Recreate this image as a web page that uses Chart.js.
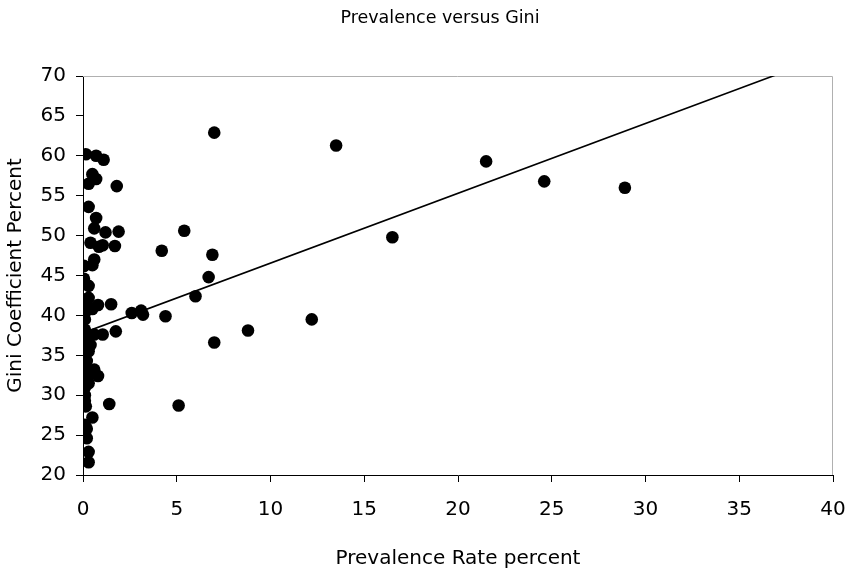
<!DOCTYPE html>
<html>
<head>
<meta charset="utf-8">
<script src="https://cdn.jsdelivr.net/npm/chart.js@4"></script>
<style>
  html, body { margin: 0; padding: 0; background: #fff; }
  #wrap { width: 851px; height: 575px; }
</style>
</head>
<body>
<div id="wrap"><canvas id="chart"></canvas></div>
<script>
// prevalence rate (%) and Gini coefficient (%) per country
const prevalence = [
  7.0, 13.5, 21.5, 24.6, 28.9, 16.5, 12.2, 8.8, 6.0, 6.7, 6.9, 5.4, 4.2, 7.0, 4.4,
  3.1, 3.2, 2.6, 5.1, 1.4,
  0.15, 0.7, 1.1, 0.5, 0.7, 0.3, 1.8, 0.3, 0.7, 0.6, 1.2, 1.9, 0.4, 0.85, 1.05, 1.7,
  0.6, 0.05, 0.5, 0.05, 0.3, 0.05, 0.3, 0.2, 0.8, 1.5, 0.5, 0.1, 0.1, 0.1, 1.05, 1.75,
  0.6, 0.3, 0.1, 0.4, 0.1, 0.3, 0.1, 0.2, 0.1, 0.6, 0.1, 0.3, 0.8, 0.1, 0.3, 0.1, 0.1,
  0.1, 0.15, 0.5, 0.1, 0.2, 0.1, 0.2, 0.3, 0.3
];
const gini = [
  62.9, 61.3, 59.3, 56.8, 56.0, 49.8, 39.5, 38.1, 42.4, 44.8, 47.6, 50.6, 48.1, 36.6, 39.9,
  40.6, 40.1, 40.3, 28.7, 28.9,
  60.2, 60.0, 59.5, 57.7, 57.1, 56.5, 56.2, 53.6, 52.2, 50.9, 50.4, 50.5, 49.1, 48.6, 48.8, 48.7,
  47.0, 46.2, 46.3, 44.6, 43.7, 42.0, 42.2, 41.2, 41.3, 41.4, 40.8, 40.3, 39.5, 38.2, 37.6, 38.0,
  37.6, 37.2, 36.8, 36.3, 35.8, 35.5, 35.0, 34.3, 33.6, 33.2, 33.0, 32.6, 32.4, 32.0, 31.5, 31.0, 30.0,
  29.3, 28.6, 27.2, 26.3, 25.8, 25.2, 24.6, 22.9, 21.6
];
// linear trend line end points
const trendX = [0, 40];
const trendY = [37.8, 72.8];

const xTicks = [0, 5, 10, 15, 20, 25, 30, 35, 40];
const yTicks = [20, 25, 30, 35, 40, 45, 50, 55, 60, 65, 70];

const points = prevalence.map((p, i) => ({ x: p, y: gini[i] }));
const trend = trendX.map((p, i) => ({ x: p, y: trendY[i] }));

// the source text is a little wider than Arial, DejaVu Sans fits it better
const FONT = 'DejaVu Sans, Liberation Sans, sans-serif';

// grey frame on top and right of the plot area
const frame = {
  id: 'frame',
  afterLayout(chart) {
    // centre the title a bit right of the canvas middle, as in the source
    const t = chart.titleBlock;
    if (t) { t.left = 47; t.right = 833; t.width = 786; }
  },
  beforeDatasetsDraw(chart) {
    const { ctx, chartArea: a } = chart;
    ctx.save();
    ctx.strokeStyle = '#b0b0b0';
    ctx.lineWidth = 1;
    ctx.beginPath();
    ctx.moveTo(a.left, a.top + 0.5);
    ctx.lineTo(a.right - 0.5, a.top + 0.5);
    ctx.lineTo(a.right - 0.5, a.bottom);
    ctx.stroke();
    ctx.restore();
  }
};

new Chart(document.getElementById('chart'), {
  type: 'scatter',
  data: {
    datasets: [
      {
        data: trend,
        type: 'line',
        borderColor: '#000',
        borderWidth: 1.6,
        pointRadius: 0,
        fill: false,
        order: 2
      },
      {
        data: points,
        backgroundColor: '#000',
        borderWidth: 0,
        pointRadius: 6.3,
        pointHoverRadius: 6.3,
        order: 1
      }
    ]
  },
  options: {
    responsive: true,
    maintainAspectRatio: false,
    animation: false,
    layout: { padding: { left: 0, right: 18, top: 0, bottom: 0 } },
    plugins: {
      legend: { display: false },
      tooltip: { enabled: false },
      title: {
        display: true,
        text: 'Prevalence versus Gini',
        color: '#000',
        font: { family: FONT, size: 17.5, weight: 'normal' },
        padding: { top: 8, bottom: 47 }
      }
    },
    scales: {
      x: {
        type: 'linear',
        min: 0,
        max: 40,
        afterBuildTicks: s => { s.ticks = xTicks.map(v => ({ value: v })); },
        afterFit: s => { s.height = 100; s.paddingLeft = 0; s.paddingRight = 0; },
        ticks: { color: '#000', font: { family: FONT, size: 20 }, padding: 16 },
        grid: { drawOnChartArea: false, tickLength: 7, color: '#000' },
        border: { color: '#000', width: 1 },
        title: {
          display: true,
          text: 'Prevalence Rate percent',
          color: '#000',
          font: { family: FONT, size: 20 },
          padding: { top: 16 }
        }
      },
      y: {
        type: 'linear',
        min: 20,
        max: 70,
        afterBuildTicks: s => { s.ticks = yTicks.map(v => ({ value: v })); },
        afterFit: s => { s.width = 83; s.paddingTop = 0; s.paddingBottom = 0; },
        ticks: { color: '#000', font: { family: FONT, size: 20 }, padding: 10 },
        grid: { drawOnChartArea: false, tickLength: 7, color: '#000' },
        border: { color: '#000', width: 1 },
        title: {
          display: true,
          text: 'Gini Coefficient Percent',
          color: '#000',
          font: { family: FONT, size: 20 },
          padding: { bottom: 0 }
        }
      }
    }
  },
  plugins: [frame]
});
</script>
</body>
</html>
